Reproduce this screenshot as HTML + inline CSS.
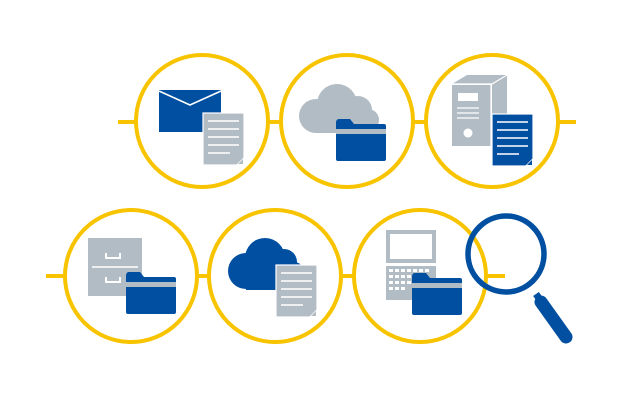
<!DOCTYPE html>
<html><head><meta charset="utf-8"><style>html,body{margin:0;padding:0;background:#fff}svg{display:block}</style></head>
<body>
<svg width="624" height="400" viewBox="0 0 624 400" xmlns="http://www.w3.org/2000/svg">
<defs>
<g id="docg">
<rect x="0" y="0" width="41" height="52" fill="#b1bcc5" stroke="#fff" stroke-width="1.2"/>
<g stroke="#fff" stroke-width="1.6"><line x1="5" y1="8" x2="36" y2="8"/><line x1="5" y1="16" x2="36" y2="16"/><line x1="5" y1="24" x2="36" y2="24"/><line x1="5" y1="32" x2="36" y2="32"/><line x1="5" y1="40" x2="27" y2="40"/></g>
<polygon points="33,52 41,44 41,52" fill="#fff"/><polygon points="35,51 40,46 40,51" fill="#b1bcc5"/>
</g>
<g id="fold">
<path d="M0,4 Q0,0 3,0 L14,0 L18,5 L48,5 Q50,5 50,7 L50,40 Q50,42 48,42 L2,42 Q0,42 0,40 Z" fill="#004fa0"/>
<rect x="0" y="10" width="50" height="5" fill="#b1bcc5"/>
</g>
</defs>
<g stroke="#f8c400" stroke-width="4" fill="none">
<line x1="118" y1="122" x2="576" y2="122"/>
<line x1="46" y1="276" x2="505" y2="276"/>
</g>
<g stroke="#f8c400" stroke-width="4" fill="#fff">
<circle cx="202" cy="121" r="66"/><circle cx="347" cy="121" r="66"/><circle cx="492" cy="121" r="66"/>
<circle cx="131" cy="276" r="66"/><circle cx="275" cy="276" r="66"/><circle cx="420" cy="276" r="66"/>
</g>
<!-- envelope + doc -->
<rect x="159" y="90" width="62" height="42" fill="#004fa0"/>
<polyline points="159,91 190,105 221,91" fill="none" stroke="#fff" stroke-width="1.6"/>
<use href="#docg" x="203" y="113"/>
<!-- gray cloud + folder -->
<g fill="#b1bcc5"><circle cx="316" cy="116" r="17"/><circle cx="337" cy="104" r="20"/><circle cx="358" cy="110" r="14"/><circle cx="368" cy="120" r="11"/><rect x="316" y="112" width="60" height="21"/></g>
<use href="#fold" x="336" y="119"/>
<!-- server -->
<polygon points="452,84 467,75 507,75 492,84" fill="#b1bcc5"/>
<polygon points="492,84 507,75 507,140 492,146" fill="#b1bcc5"/>
<rect x="452" y="85" width="39" height="61" fill="#b1bcc5"/>
<line x1="491" y1="85" x2="491" y2="146" stroke="#fff" stroke-width="1.2"/>
<polyline points="452,84 492,84 507,75" fill="none" stroke="#fff" stroke-width="1.2"/>
<rect x="458" y="93" width="20" height="8" fill="#fff"/>
<g stroke="#fff" stroke-width="1.2"><line x1="457" y1="108" x2="479" y2="108"/><line x1="457" y1="113" x2="479" y2="113"/><line x1="457" y1="118" x2="479" y2="118"/></g>
<circle cx="468" cy="133" r="4.5" fill="#fff"/>
<g>
<rect x="492" y="114" width="41" height="52" fill="#004fa0" stroke="#fff" stroke-width="1.2"/>
<g stroke="#fff" stroke-width="1.6"><line x1="497" y1="122" x2="528" y2="122"/><line x1="497" y1="130" x2="528" y2="130"/><line x1="497" y1="138" x2="528" y2="138"/><line x1="497" y1="146" x2="528" y2="146"/><line x1="497" y1="154" x2="519" y2="154"/></g>
<polygon points="525,166 533,158 533,166" fill="#fff"/><polygon points="527,165 532,160 532,165" fill="#004fa0"/>
</g>
<!-- cabinet + folder -->
<rect x="88" y="238" width="54" height="58" fill="#b1bcc5"/>
<line x1="92" y1="267" x2="138" y2="267" stroke="#fff" stroke-width="1.4"/>
<polyline points="106,253 106,258 120,258 120,253" fill="none" stroke="#fff" stroke-width="2"/>
<polyline points="106,277 106,282 120,282 120,277" fill="none" stroke="#fff" stroke-width="2"/>
<use href="#fold" x="126" y="272"/>
<!-- blue cloud + doc -->
<g fill="#004fa0"><circle cx="246" cy="271" r="18"/><circle cx="265" cy="258" r="20"/><circle cx="284" cy="262" r="13"/><circle cx="294" cy="272" r="10"/><rect x="246" y="266" width="54" height="24"/></g>
<use href="#docg" x="276" y="265"/>
<!-- laptop + folder -->
<rect x="386" y="230" width="50" height="33" fill="#b1bcc5"/>
<rect x="390" y="234" width="42" height="25" fill="#fff"/>
<rect x="386" y="266" width="50" height="34" fill="#b1bcc5"/>
<g fill="#fff">
<rect x="389" y="269" width="4" height="3"/><rect x="395" y="269" width="4" height="3"/><rect x="401" y="269" width="4" height="3"/><rect x="407" y="269" width="4" height="3"/><rect x="413" y="269" width="4" height="3"/><rect x="419" y="269" width="4" height="3"/><rect x="425" y="269" width="4" height="3"/>
<rect x="389" y="275" width="4" height="3"/><rect x="395" y="275" width="4" height="3"/><rect x="401" y="275" width="4" height="3"/><rect x="407" y="275" width="4" height="3"/>
<rect x="389" y="281" width="4" height="3"/><rect x="395" y="281" width="4" height="3"/><rect x="401" y="281" width="4" height="3"/><rect x="407" y="281" width="4" height="3"/>
<rect x="389" y="287" width="4" height="3"/><rect x="395" y="287" width="4" height="3"/><rect x="401" y="287" width="4" height="3"/>
</g>
<use href="#fold" x="412" y="273"/>
<!-- magnifier -->
<circle cx="506" cy="254" r="38" fill="none" stroke="#004fa0" stroke-width="5.5"/>
<line x1="536" y1="294" x2="541" y2="301" stroke="#004fa0" stroke-width="7"/>
<line x1="541" y1="302" x2="566" y2="337" stroke="#004fa0" stroke-width="13" stroke-linecap="round"/>
</svg>
</body></html>
